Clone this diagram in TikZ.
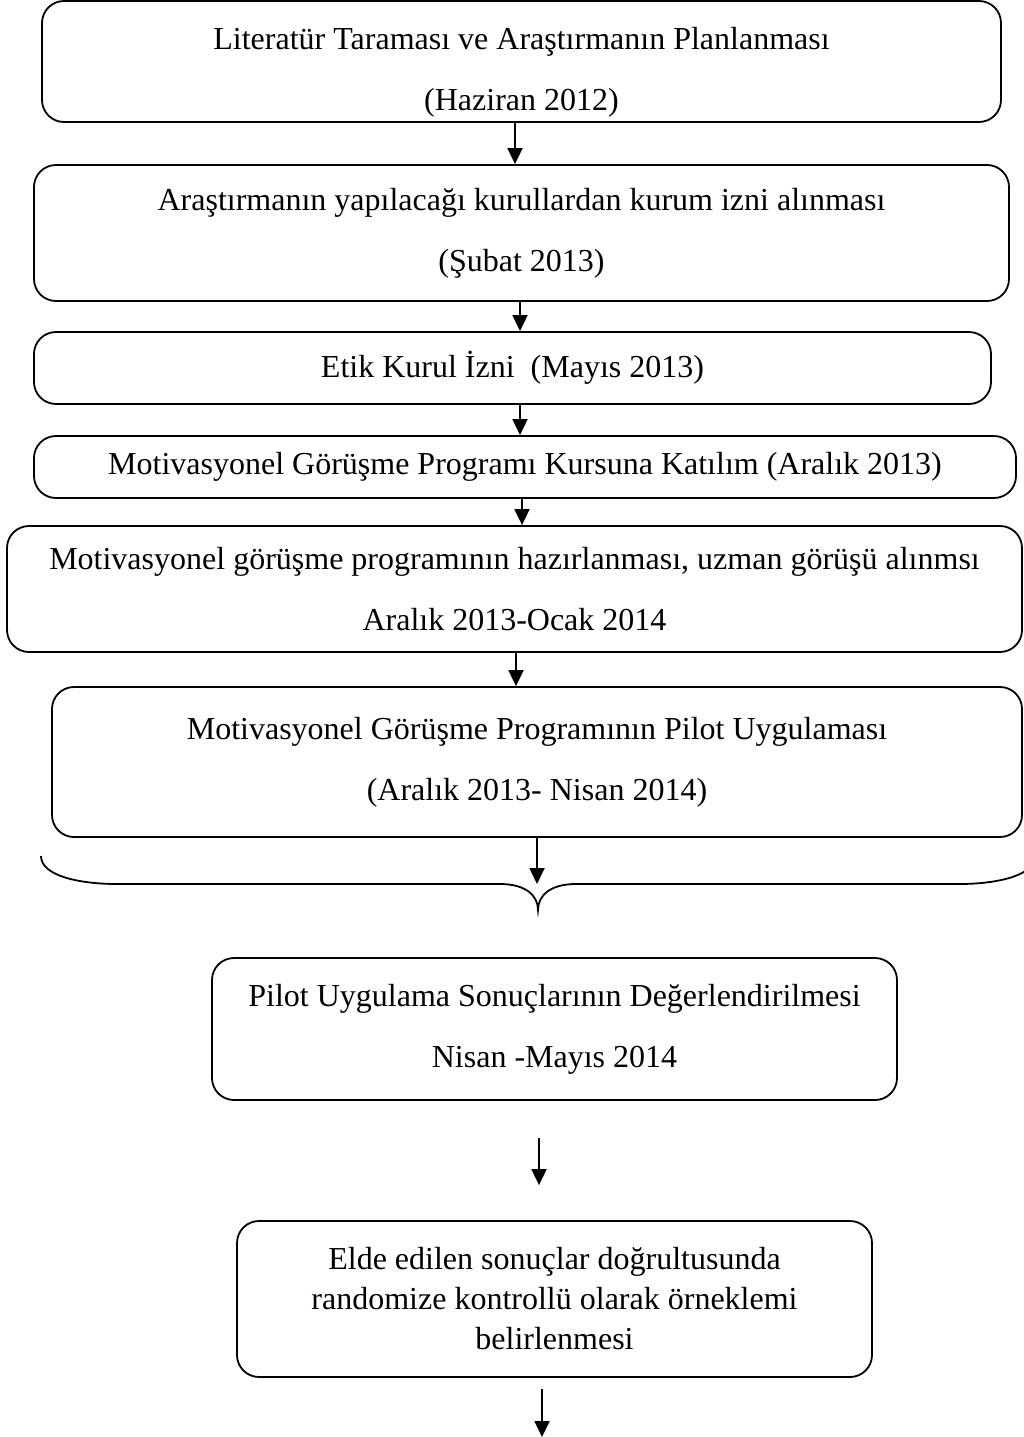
\documentclass[tikz,border=0pt]{standalone}
\usepackage{fontspec}
\setmainfont{Liberation Serif}
\usetikzlibrary{arrows.meta}
\tikzset{
  stepbox/.style={draw, line width=1.8pt, rounded corners=22pt, align=center,
    inner sep=0pt, font=\fontsize{32}{61}\selectfont},
  flowarr/.style={line width=1.8pt, -{Triangle[width=15pt,length=16pt]}},
}
\begin{document}
\begin{tikzpicture}[x=1pt,y=-1pt]
  \useasboundingbox (0,0) rectangle (1024,1437);
  % steps, sizes taken from the page
  \node[stepbox, minimum width=959pt, minimum height=121pt] (lit) at (521.5,61.5)
    {\rule{0pt}{43pt}Literatür Taraması ve Araştırmanın Planlanması\\(Haziran 2012)};
  \node[stepbox, minimum width=975pt, minimum height=136pt] (perm) at (521.5,233)
    {Araştırmanın yapılacağı kurullardan kurum izni alınması\\(Şubat 2013)};
  \node[stepbox, minimum width=957pt, minimum height=72pt] (ethic) at (512.5,368)
    {Etik Kurul İzni~ (Mayıs 2013)};
  \node[stepbox, minimum width=982pt, minimum height=62pt] (course) at (525,467)
    {Motivasyonel Görüşme Programı Kursuna Katılım (Aralık 2013)};
  \node[stepbox, minimum width=1015pt, minimum height=126pt] (prep) at (514.5,589)
    {Motivasyonel görüşme programının hazırlanması, uzman görüşü alınmsı\\Aralık 2013-Ocak 2014};
  \node[stepbox, minimum width=970pt, minimum height=150pt] (pilot) at (537,762)
    {Motivasyonel Görüşme Programının Pilot Uygulaması\\(Aralık 2013- Nisan 2014)};
  \node[stepbox, minimum width=685pt, minimum height=142pt] (eval) at (554.5,1029)
    {Pilot Uygulama Sonuçlarının Değerlendirilmesi\\Nisan -Mayıs 2014};
  \node[stepbox, minimum width=635pt, minimum height=156pt, font=\fontsize{32}{40}\selectfont] (sample) at (554.5,1299)
    {Elde edilen sonuçlar doğrultusunda\\randomize kontrollü olarak örneklemi\\belirlenmesi};
  % brace under the pilot step
  \coordinate (brace) at (537,884);
  \coordinate (pageend) at (542,1437);
  \draw[line width=1.8pt] (41,856) .. controls (41,876) and (80,884) .. (117,884)
    -- (500,884) .. controls (525,884) and (538,895) .. (538,910)
    .. controls (538,895) and (551,884) .. (576,884) -- (959,884)
    .. controls (996,884) and (1035,876) .. (1035,856);
  \foreach \a/\b/\x in {lit/perm/515, perm/ethic/520, ethic/course/520, course/prep/522, prep/pilot/516}
    \draw[flowarr] (\a.south -| \x,0) -- (\b.north -| \x,0);
  \draw[flowarr] (pilot.south -| brace) -- (brace);
  \draw[flowarr, shorten <=37pt, shorten >=35pt] (eval.south -| 539,0) -- (sample.north -| 539,0);
  \draw[flowarr, shorten <=11pt] (sample.south -| pageend) -- (pageend);
\end{tikzpicture}
\end{document}
